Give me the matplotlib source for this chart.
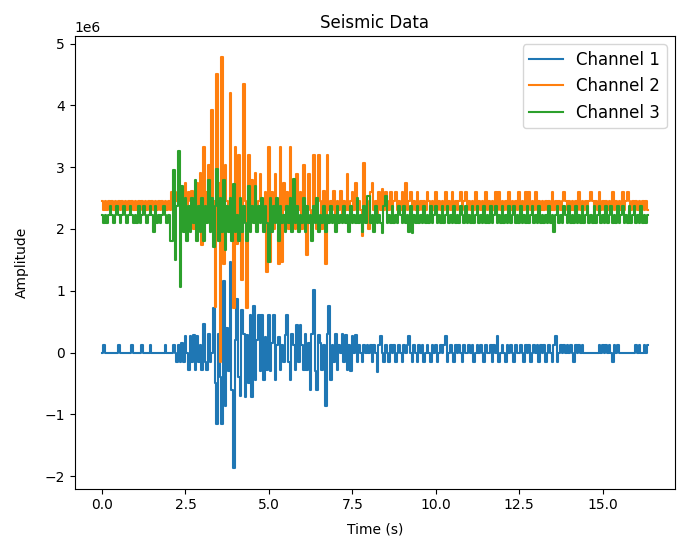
import numpy as np
from matplotlib import pyplot as plt
from matplotlib.ticker import MultipleLocator

################
# Data Storage #
################

# sample step in seconds, amplitudes below are in units of 1e4 counts
dt = 0.05
unit = 1e4

# channel 1: quiet start (0 - 2.05 s), event (2.1 - 7.95 s), tail (8 - 16.35 s)
ch1_quiet = [0, 12, 0, 0, 0, 0, 0, 0, 0, 0,
             12, 0, 0, 0, 0, 0, 0, 0, 12, 0,
             0, 0, 0, 0, 12, 0, 0, 0, 0, 12,
             0, 0, 0, 0, 0, 0, 0, 0, 12, 0,
             0, 0]
ch1_event = [0, 12, 0, -15, 12, -15, 15, -15, 27, 0,
             -28, 27, -15, 28, -28, 27, -15, 12, -29, 46,
             -15, -29, 30, -15, 0, 72, -50, -116, 30, -40,
             -116, 116, -86, 40, -30, 146, -60, -187, 20, 86,
             -40, -70, 69, 30, -72, 29, -50, 60, -72, 75,
             -45, 20, 60, -30, 60, -45, 25, -28,
             60, -30, 15, 60, -45, 12, 25, -28, 12, -15,
             28, 60, -15, -45, 30, 12, -28, 45, -15, 45,
             12, -28, 30, -28, 15, -60, 30, 102, -30, -60,
             28, 15, -28, 12, -86, 30, 75, -45, 12, -15,
             30, -28, 12, 0, 30, -15, 28, -28, 12, -30,
             27, 0, 28, -15, 12, 0, -15, 12, 0, 12]
ch1_tail = [0, 12, -15, 12, 0, -31, 12, 27, 0, -15,
            12, 0, -15, 12, 0, 12, -15, 0, 12, 0,
            -15, 12, 0, 12, 27, 0, -15, 12, 0, -15,
            12, 0, 12, -15, 0, 12, 0, -15, 12, 0,
            12, -15, 0, 12, 0, 12, 27, -15, 0, 12,
            0, -15, 12, 0, 12, 0, -15, 12, 0, 0,
            12, 0, 12, -15, 0, 12, 0, 12, 0, -15,
            12, 0, 0, 12, -15, 12, 0, 27, -15, 0,
            12, 0, -15, 12, 0, 12, 0, -15, 12, 0,
            0, 12, 0, -15, 12, 0, 12, -15, 0, 12,
            0, 12, -15, 12, 0, 12, -15, 0, 12, 0,
            -15, 12, 27, -15, 0, 12, 0, 12, 0, 12,
            0, 12, 0, -15, 12, 0, 12, 0, 12, 0,
            0, 0, 0, 0, 0, 0, 0, 0, 12, 0,
            12, 0, 12, 0, 12, 0, -15, 12, 0, 12,
            0, 0, 0, 0, 0, 0, 0, 0, 0, 0,
            12, 0, 12, 0, 0, 12, 0, 12]

# channel 2
ch2_quiet = [246, 231, 246, 231, 246, 231, 246, 231, 246, 231,
             246, 231, 246, 231, 246, 231, 246, 231, 246, 231,
             246, 231, 246, 231, 246, 231, 246, 231, 246, 231,
             246, 231, 246, 231, 246, 231, 246, 231, 246, 231,
             246, 231]
ch2_event = [260, 231, 260, 246, 260, 231, 260, 246, 275, 231,
             260, 246, 262, 200, 246, 275, 231, 290, 174, 333,
             220, 260, 303, 200, 392, 246, 74, 450, 275, -16,
             479, 144, 303, 246, 200, 420, 246, 72, 333, 175,
             320, 200, 117, 435, 246, 72, 320, 200, 280, 231,
             290, 200, 246, 289, 231, 200, 260, 131,
             333, 147, 260, 200, 289, 231, 144, 333, 147, 275,
             231, 260, 200, 333, 231, 246, 200, 289, 231, 260,
             200, 303, 231, 158, 289, 231, 200, 320, 231, 200,
             320, 246, 200, 262, 144, 320, 231, 246, 231, 262,
             200, 246, 231, 262, 220, 246, 231, 289, 231, 246,
             260, 231, 275, 231, 246, 231, 188, 306, 231, 246]
ch2_tail = [200, 260, 275, 231, 246, 220, 260, 231, 264, 231,
            260, 246, 231, 260, 231, 246, 260, 231, 246, 231,
            260, 231, 275, 231, 246, 260, 231, 246, 231, 260,
            231, 246, 231, 246, 231, 260, 246, 231, 246, 231,
            260, 231, 246, 231, 246, 231, 260, 231, 246, 231,
            260, 231, 246, 231, 246, 260, 231, 246, 260, 231,
            246, 231, 246, 231, 260, 231, 246, 231, 246, 231,
            260, 231, 246, 231, 246, 231, 260, 231, 260, 231,
            246, 231, 246, 231, 260, 231, 246, 231, 246, 231,
            260, 231, 246, 231, 260, 231, 260, 231, 246, 231,
            260, 231, 246, 231, 246, 231, 246, 231, 246, 231,
            260, 231, 246, 231, 246, 231, 246, 260, 246, 231,
            246, 231, 246, 231, 246, 231, 260, 231, 246, 231,
            246, 231, 246, 260, 246, 231, 246, 231, 260, 231,
            246, 231, 246, 231, 246, 231, 260, 231, 246, 231,
            246, 231, 260, 231, 246, 260, 246, 231, 246, 231,
            246, 231, 246, 231, 246, 231, 246, 231]

# channel 3
ch3_quiet = [223, 209, 223, 209, 223, 237, 223, 209, 223, 237,
             223, 209, 223, 237, 223, 209, 223, 237, 223, 209,
             223, 209, 237, 209, 223, 237, 223, 209, 223, 237,
             223, 195, 237, 209, 223, 209, 223, 237, 223, 209,
             223, 180]
ch3_event = [180, 296, 150, 237, 326, 106, 270, 195, 250, 180,
             237, 195, 250, 209, 280, 180, 237, 195, 250, 180,
             237, 209, 280, 195, 250, 170, 237, 297, 180, 250,
             195, 280, 166, 237, 195, 250, 180, 272, 195, 223,
             180, 250, 195, 237, 209, 180, 270, 195, 237, 209,
             270, 195, 237, 209, 250, 195, 237, 209,
             147, 250, 195, 237, 209, 250, 180, 237, 209, 223,
             195, 237, 209, 250, 195, 281, 209, 237, 195, 223,
             209, 250, 195, 237, 209, 223, 180, 237, 209, 250,
             195, 223, 209, 237, 195, 223, 209, 237, 209, 223,
             195, 237, 209, 223, 209, 237, 209, 223, 195, 237,
             209, 223, 209, 250, 209, 223, 195, 237, 209, 254]
ch3_tail = [254, 209, 223, 195, 237, 209, 223, 209, 193, 237,
            254, 209, 223, 209, 237, 209, 223, 209, 237, 223,
            209, 237, 209, 223, 195, 237, 193, 223, 209, 237,
            209, 223, 209, 237, 209, 223, 209, 237, 209, 223,
            237, 209, 223, 209, 237, 209, 223, 237, 209, 223,
            209, 237, 209, 223, 209, 237, 223, 209, 237, 209,
            223, 209, 237, 209, 223, 237, 209, 223, 209, 237,
            209, 223, 209, 237, 209, 223, 237, 209, 223, 209,
            237, 209, 223, 209, 237, 209, 223, 237, 209, 223,
            209, 237, 209, 223, 209, 237, 209, 223, 237, 209,
            223, 209, 237, 209, 223, 209, 223, 209, 237, 209,
            223, 195, 223, 237, 209, 223, 209, 237, 223, 209,
            237, 209, 223, 209, 237, 209, 223, 209, 237, 209,
            223, 237, 209, 223, 209, 237, 209, 223, 237, 209,
            223, 209, 237, 209, 223, 237, 209, 223, 209, 237,
            209, 223, 237, 209, 223, 209, 237, 209, 223, 237,
            209, 223, 209, 237, 209, 223, 209, 223]

labels = ['Channel 1', 'Channel 2', 'Channel 3']

###################
# Data Formatting #
###################

channels = [np.array(q + e + t) * unit for q, e, t in
            [(ch1_quiet, ch1_event, ch1_tail),
             (ch2_quiet, ch2_event, ch2_tail),
             (ch3_quiet, ch3_event, ch3_tail)]]
time = np.arange(len(channels[0])) * dt

############
# Plotting #
############

fig, ax = plt.subplots(figsize=(6.86, 5.37), dpi=100)
plt.subplots_adjust(left=0.109, right=0.984, top=0.933, bottom=0.09)

for data, label in zip(channels, labels):
    # steps keep the dense sample-to-sample flicker looking like a solid band
    ax.plot(time, data, label=label, drawstyle='steps-mid')

ax.xaxis.set_major_locator(MultipleLocator(2.5))
ax.set_title('Seismic Data')
ax.set_xlabel('Time (s)', labelpad=7)
ax.set_ylabel('Amplitude', labelpad=11)
ax.legend(loc='upper right', fontsize=12)

plt.savefig('out.png', dpi=100)
